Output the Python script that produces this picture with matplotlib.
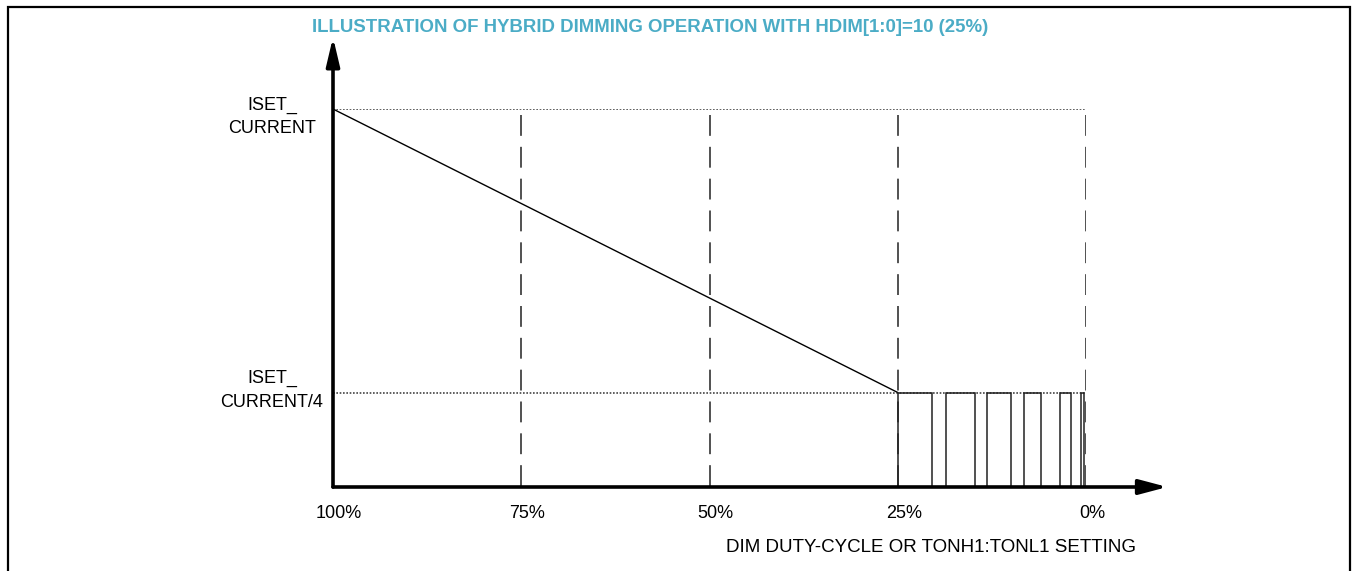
import matplotlib
matplotlib.use('Agg')
import matplotlib.pyplot as plt
from matplotlib.patches import Rectangle
from matplotlib.transforms import ScaledTranslation

# chart content
title = 'ILLUSTRATION OF HYBRID DIMMING OPERATION WITH HDIM[1:0]=10 (25%)'
x_label = 'DIM DUTY-CYCLE OR TONH1:TONL1 SETTING'
duty_ticks = [100, 75, 50, 25, 0]
duty_labels = ['100%', '75%', '50%', '25%', '0%']
level_values = [1.0, 0.25]
level_labels = ['ISET_\nCURRENT', 'ISET_\nCURRENT/4']
dashed_at = [75, 50, 25, 0]

# analog dimming ramp (duty %, current fraction)
ramp_duty = [100, 25]
ramp_current = [1.0, 0.25]

# PWM pulses below 25%: rising and falling edges in duty %
pulse_on = [25.0, 18.6, 13.2, 8.2, 3.5, 0.6]
pulse_off = [20.5, 14.7, 10.0, 6.0, 2.0, 0.3]
pulse_level = 0.25

W, H = 1353, 571
fig = plt.figure(figsize=(W / 100, H / 100), dpi=100)
plt.rcParams['font.family'] = ['Liberation Sans', 'DejaVu Sans']

# axes mapped so 100%..0% spans px 333..1086, 0..1 spans px 487..109
x0, x1, y0, y1 = 333, 1086, 487, 109
ax = fig.add_axes([x0 / W, 1 - y0 / H, (x1 - x0) / W, (y0 - y1) / H])
ax.set_xlim(100, 0)
ax.set_ylim(0, 1)
for s in ax.spines.values():
    s.set_visible(False)
ax.set_yticks([])

# figure border
fig.patches.append(Rectangle((8 / W, -0.1), 1342 / W, 1.1 - 7 / H, transform=fig.transFigure,
                             fill=False, edgecolor='black', linewidth=1.6))

# dotted reference levels
for v in level_values:
    ax.plot([100, 0], [v, v], color='#444444', linestyle=(0, (1, 1.0)), linewidth=1.2)

# dashed verticals
for d in dashed_at:
    ax.plot([d, d], [0.984, 0], color='#333333', linestyle=(0, (12.5, 6.6)), linewidth=1.2)

# ramp
ax.plot(ramp_duty, ramp_current, color='black', linewidth=1.0)

# pulses
for on, off in zip(pulse_on, pulse_off):
    ax.plot([on, on, off, off], [0, pulse_level, pulse_level, 0], color='#222222', linewidth=1.1,
            solid_joinstyle='miter')

# axis arrows
ax.annotate('', xy=(1.108, 0), xytext=(0, 0), xycoords='axes fraction',
            arrowprops=dict(arrowstyle='-|>,head_length=1.7,head_width=0.45', color='black',
                            lw=2.6, shrinkA=0, shrinkB=0), annotation_clip=False)
ax.annotate('', xy=(0, 1.19), xytext=(0, 0), xycoords='axes fraction',
            arrowprops=dict(arrowstyle='-|>,head_length=1.7,head_width=0.4', color='black',
                            lw=2.6, shrinkA=0, shrinkB=0), annotation_clip=False)

# x tick labels
ax.set_xticks(duty_ticks)
ax.set_xticklabels(duty_labels, fontsize=13)
ax.tick_params(axis='x', length=0, pad=13)
shift = ScaledTranslation(6 / 100, 0, fig.dpi_scale_trans)
for lbl in ax.get_xticklabels():
    lbl.set_transform(lbl.get_transform() + shift)

# level labels
for v, lab, dy in zip(level_values, level_labels, [8, -2]):
    ax.text(-61 / (x1 - x0), v - dy / (y0 - y1), lab, transform=ax.transAxes, ha='center',
            va='center', multialignment='center', fontsize=13, linespacing=1.5)

fig.text(931 / W, 1 - 547 / H, x_label, ha='center', va='center', fontsize=13.5)
fig.text(312 / W, 1 - 28 / H, title, ha='left', va='center', fontsize=13.4, fontweight='bold',
         color='#4BACC6', family=['Liberation Sans Narrow', 'Liberation Sans'])

fig.savefig('out.png', dpi=100)
